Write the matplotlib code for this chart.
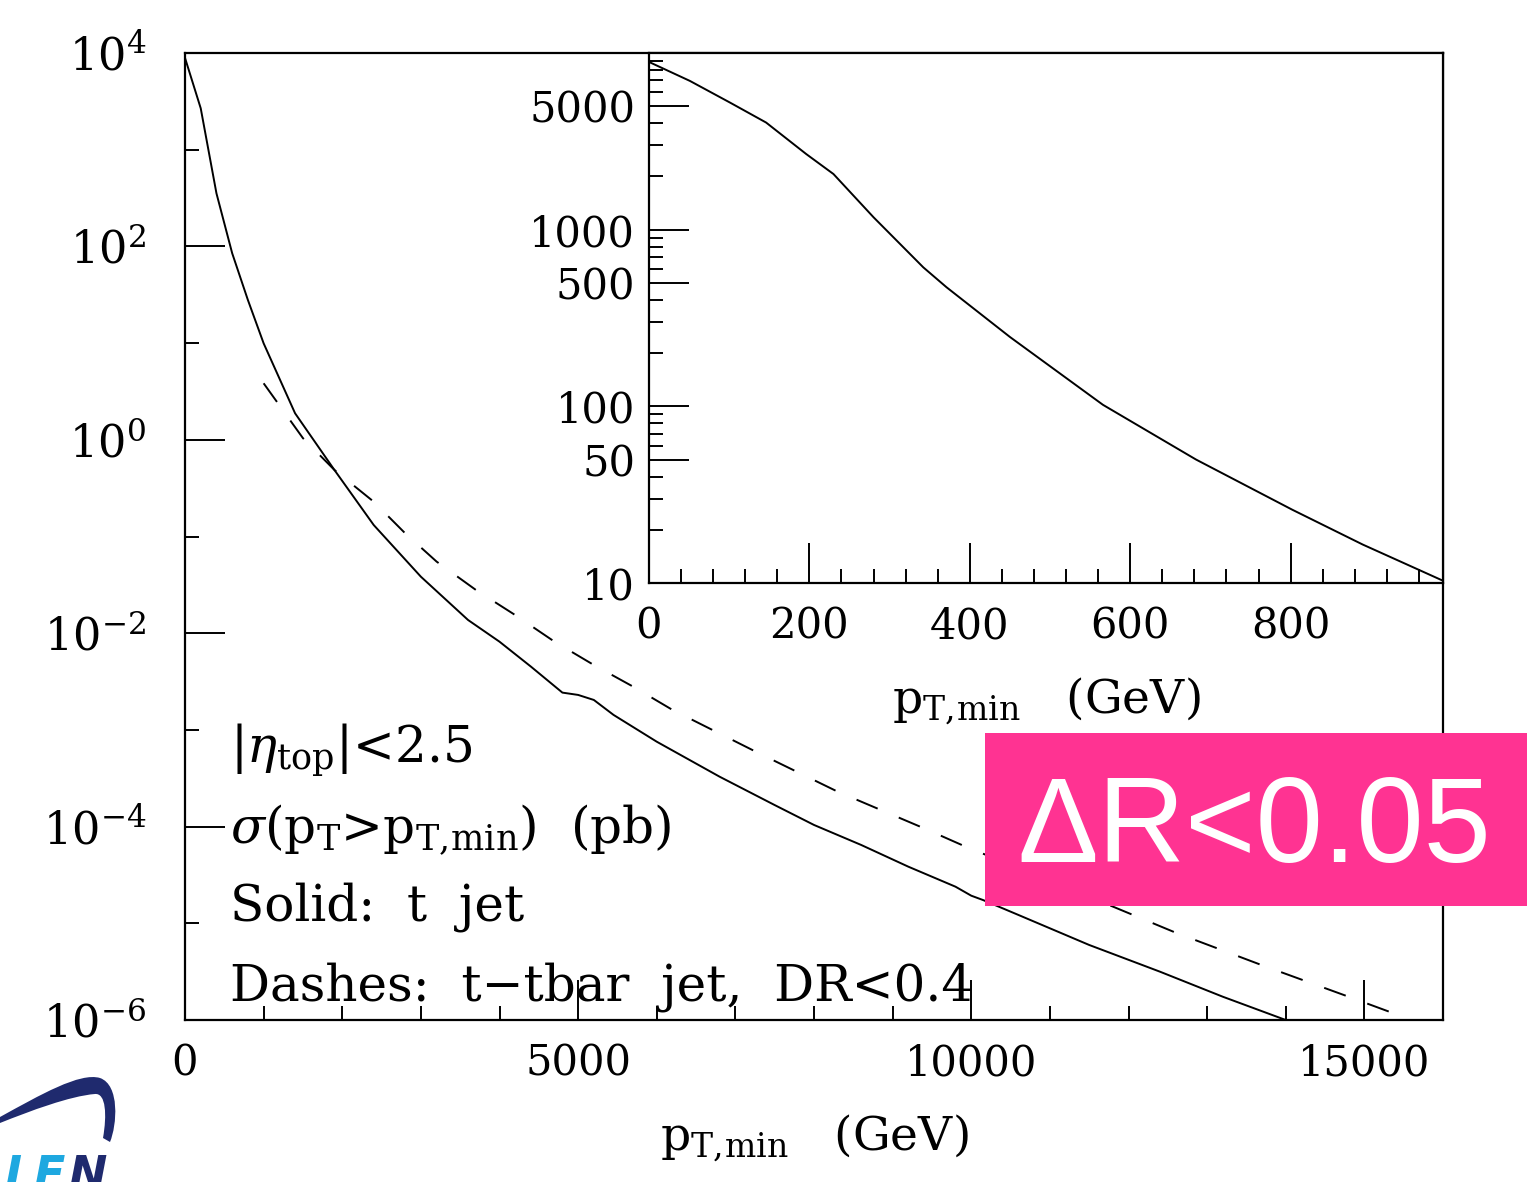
import matplotlib
matplotlib.use("Agg")
import matplotlib.pyplot as plt
from matplotlib.ticker import FixedLocator, FixedFormatter, NullFormatter
from matplotlib.path import Path
from matplotlib.patches import PathPatch, Rectangle

plt.rcParams['font.family'] = ['DejaVu Serif']
plt.rcParams['mathtext.fontset'] = 'dejavuserif'
plt.rcParams['lines.scale_dashes'] = False

# sigma(pT > pT,min) in pb, single top jet (solid)
pt_solid = [0, 200, 400, 600, 800, 1000, 1400, 1900, 2400, 3000, 3600, 4000,
            4400, 4800, 5000, 5200, 5450, 6000, 6800, 7500, 8000, 8600, 9200,
            9800, 10000, 10150, 10600, 11500, 12400, 13200, 14000]
sig_solid = [8.9e3, 2.68e3, 3.54e2, 8.5e1, 2.79e1, 9.95, 1.88, 4.88e-1, 1.315e-1,
             3.84e-2, 1.37e-2, 8.17e-3, 4.51e-3, 2.43e-3, 2.30e-3, 2.04e-3, 1.43e-3,
             7.55e-4, 3.28e-4, 1.67e-4, 1.04e-4, 6.46e-5, 3.85e-5, 2.39e-5, 1.93e-5,
             1.74e-5, 1.22e-5, 5.97e-6, 3.16e-6, 1.74e-6, 1.0e-6]

# t-tbar jet, DR<0.4 (dashed)
pt_dash = [1000, 1500, 1900, 2400, 2800, 3200, 3700, 4200, 4700, 5200, 5700, 6200,
           7300, 8300, 9400, 9900, 11800, 12600, 13700, 14800, 15400]
sig_dash = [3.84, 1.04, 4.88e-1, 2.29e-1, 1.08e-1, 5.5e-2, 2.8e-2, 1.54e-2, 8.17e-3,
            4.69e-3, 2.80e-3, 1.61e-3, 5.73e-4, 2.30e-4, 9.6e-5, 6.35e-5, 1.49e-5,
            8.0e-6, 3.68e-6, 1.74e-6, 1.15e-6]

# low-pT detail of the t jet curve (inset)
pt_inset = [0, 51, 101, 146, 196, 230, 280, 342, 371, 450, 566, 682, 802, 890, 990]
sig_inset = [8900, 6950, 5240, 4040, 2680, 2065, 1175, 612, 472, 247, 102, 50, 26,
             16.5, 10.3]

main_xticks = [0, 5000, 10000, 15000]
main_yticks = [1e-6, 1e-4, 1e-2, 1e0, 1e2, 1e4]
main_yticklabels = [r'$10^{-6}$', r'$10^{-4}$', r'$10^{-2}$', r'$10^{0}$',
                    r'$10^{2}$', r'$10^{4}$']
inset_xticks = [0, 200, 400, 600, 800]
inset_yticks = [10, 50, 100, 500, 1000, 5000]
inset_yticklabels = ['10', '50', '100', '500', '1000', '5000']

W, H = 1536, 1182
fig = plt.figure(figsize=(W / 100, H / 100), dpi=100)


def rect(l, t, r, b):
    return [l / W, 1 - b / H, (r - l) / W, (b - t) / H]


def fx(px):
    return px / W


def fy(py):
    return 1 - py / H


FS = 30
TXT = 34
NOTE = 36
LW = 1.4
PT_LABEL = r'$\mathrm{p}_{\mathrm{T},\!\mathrm{min}}$   (GeV)'

# ---- main panel ----
ax = fig.add_axes(rect(185, 53, 1443, 1020))
ax.plot(pt_solid, sig_solid, color='black', lw=LW, solid_joinstyle='round')
ax.plot(pt_dash, sig_dash, color='black', lw=LW, dashes=(16.5, 16.5))
ax.set_yscale('log')
ax.set_xlim(0, 16000)
ax.set_ylim(1e-6, 1e4)
ax.xaxis.set_major_locator(FixedLocator(main_xticks))
ax.xaxis.set_minor_locator(FixedLocator(list(range(1000, 16000, 1000))))
ax.yaxis.set_major_locator(FixedLocator(main_yticks))
ax.yaxis.set_major_formatter(FixedFormatter(main_yticklabels))
ax.yaxis.set_minor_locator(FixedLocator([1e-5, 1e-3, 1e-1, 1e1, 1e3]))
ax.yaxis.set_minor_formatter(NullFormatter())
ax.tick_params(which='both', direction='in', top=False, right=False,
               width=LW, labelsize=FS)
ax.tick_params(which='major', length=29)
ax.tick_params(which='minor', length=10)
ax.tick_params(axis='x', which='major', pad=16)
ax.tick_params(axis='y', which='major', pad=28, labelsize=32)
for s in ax.spines.values():
    s.set_linewidth(1.6)
ax.set_xlabel(PT_LABEL, fontsize=TXT, labelpad=20)

# annotations
tx = fx(230)
fig.text(tx, fy(762), r'$|\eta_{\mathrm{top}}|$<2.5', fontsize=NOTE, va='baseline')
fig.text(tx, fy(843),
         r'$\sigma$(p$_{\mathrm{T}}$>p$_{\mathrm{T},\!\mathrm{min}}$)  (pb)',
         fontsize=NOTE, va='baseline')
fig.text(tx, fy(920), 'Solid:  t  jet', fontsize=NOTE, va='baseline')
fig.text(tx, fy(1000), 'Dashes:  t\u2212tbar  jet,  DR<0.4', fontsize=NOTE,
         va='baseline')

# ---- inset ----
ins = fig.add_axes(rect(649, 53, 1443, 583))
ins.set_facecolor('white')
ins.plot(pt_inset, sig_inset, color='black', lw=LW, solid_joinstyle='round')
ins.set_yscale('log')
ins.set_xlim(0, 990)
ins.set_ylim(10, 1e4)
ins.xaxis.set_major_locator(FixedLocator(inset_xticks))
ins.xaxis.set_minor_locator(FixedLocator(list(range(40, 990, 40))))
ins.yaxis.set_major_locator(FixedLocator(inset_yticks))
ins.yaxis.set_major_formatter(FixedFormatter(inset_yticklabels))
ins.yaxis.set_minor_locator(FixedLocator(
    [20, 30, 40, 60, 70, 80, 90, 200, 300, 400, 600, 700, 800, 900,
     2000, 3000, 4000, 6000, 7000, 8000, 9000]))
ins.yaxis.set_minor_formatter(NullFormatter())
ins.tick_params(which='both', direction='in', top=False, right=False,
                width=LW, labelsize=FS)
ins.tick_params(which='major', length=29)
ins.tick_params(which='minor', length=10)
ins.tick_params(axis='x', which='major', pad=16)
ins.tick_params(axis='y', which='major', pad=10)
for s in ins.spines.values():
    s.set_linewidth(1.6)
ins.set_xlabel(PT_LABEL, fontsize=TXT, labelpad=20)

# ---- highlighted cut label ----
fig.patches.append(Rectangle((fx(985), fy(906)), fx(1527) - fx(985),
                             fy(733) - fy(906), transform=fig.transFigure,
                             facecolor='#FF3392', edgecolor='none', zorder=5))
fig.text(fx(1254), fy(862), '\u0394R<0.05', family=['Liberation Sans', 'DejaVu Sans'],
         fontsize=87, color='white', ha='center', va='baseline', zorder=6)

# ---- corner logo ----
navy = '#1F2A6E'
cyan = '#1EA8E0'
pts = [(0, 1117), (40, 1095), (80, 1072), (100, 1078),
       (120, 1085), (117, 1125), (110, 1142),
       (103, 1138),
       (107, 1115), (106, 1093), (95, 1094),
       (70, 1096), (30, 1111), (0, 1123),
       (0, 1117)]
codes = [Path.MOVETO, Path.CURVE4, Path.CURVE4, Path.CURVE4,
         Path.CURVE4, Path.CURVE4, Path.CURVE4,
         Path.LINETO,
         Path.CURVE4, Path.CURVE4, Path.CURVE4,
         Path.CURVE4, Path.CURVE4, Path.CURVE4,
         Path.CLOSEPOLY]
arc = Path([(fx(x), fy(y)) for x, y in pts], codes)
fig.patches.append(PathPatch(arc, transform=fig.transFigure, facecolor=navy,
                             edgecolor='none'))
logo_kw = dict(family='DejaVu Sans', fontweight='bold', fontstyle='italic',
               fontsize=33, va='baseline')
fig.text(fx(4), fy(1189), 'I', color=cyan, **logo_kw)
fig.text(fx(33), fy(1189), 'E', color=cyan, **logo_kw)
fig.text(fx(68), fy(1189), 'N', color=navy, **logo_kw)

fig.savefig('out.png', dpi=100)
